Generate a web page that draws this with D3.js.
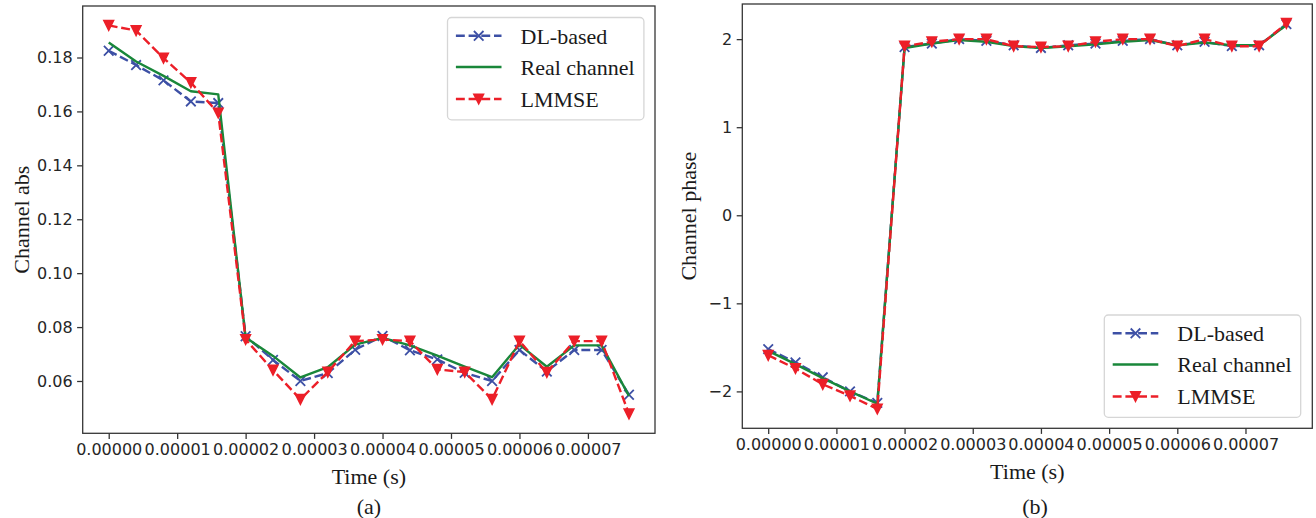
<!DOCTYPE html>
<html>
<head>
<meta charset="utf-8">
<script src="https://cdn.jsdelivr.net/npm/d3@7"></script>
<style>
  html, body { margin: 0; padding: 0; background: #fff; }
  svg { display: block; }
</style>
</head>
<body>
<svg id="chart" width="1316" height="518"></svg>
<script>
// ---- data ----
const time = [0, 0.000004, 0.000008, 0.000012, 0.000016, 0.00002, 0.000024, 0.000028, 0.000032, 0.000036,
              0.00004, 0.000044, 0.000048, 0.000052, 0.000056, 0.00006, 0.000064, 0.000068, 0.000072, 0.000076];

const dlAbs    = [0.1825, 0.1772, 0.1715, 0.1637, 0.1631, 0.0766, 0.0678, 0.0600, 0.0629, 0.0716,
                  0.0767, 0.0714, 0.0680, 0.0630, 0.0600, 0.0715, 0.0635, 0.0715, 0.0715, 0.0549];
const realAbs  = [0.1856, 0.1785, 0.1732, 0.1675, 0.1663, 0.0761, 0.0693, 0.0613, 0.0651, 0.0735,
                  0.0760, 0.0732, 0.0694, 0.0653, 0.0614, 0.0735, 0.0653, 0.0732, 0.0732, 0.0545];
const lmmseAbs = [0.1919, 0.1900, 0.1798, 0.1707, 0.1594, 0.0754, 0.0640, 0.0532, 0.0633, 0.0748,
                  0.0754, 0.0748, 0.0643, 0.0633, 0.0532, 0.0748, 0.0632, 0.0748, 0.0748, 0.0478];

const dlPhase    = [-1.52, -1.67, -1.84, -2.00, -2.13, 1.91, 1.95, 2.00, 1.98, 1.93,
                    1.90, 1.93, 1.95, 1.98, 2.00, 1.93, 1.97, 1.92, 1.93, 2.17];
const realPhase  = [-1.54, -1.69, -1.85, -2.00, -2.14, 1.90, 1.95, 1.99, 1.97, 1.92,
                    1.90, 1.92, 1.94, 1.97, 1.99, 1.93, 1.96, 1.93, 1.93, 2.16];
const lmmsePhase = [-1.59, -1.74, -1.92, -2.05, -2.20, 1.92, 1.97, 2.00, 2.00, 1.92,
                    1.91, 1.92, 1.97, 2.00, 2.00, 1.92, 2.00, 1.92, 1.92, 2.18];

const xTicks     = [0, 0.00001, 0.00002, 0.00003, 0.00004, 0.00005, 0.00006, 0.00007];
const absTicks   = [0.06, 0.08, 0.10, 0.12, 0.14, 0.16, 0.18];
const phaseTicks = [-2, -1, 0, 1, 2];

const seriesNames = ["DL-based", "Real channel", "LMMSE"];

// ---- styles ----
const BLUE = "#3d50a5", GREEN = "#19873a", RED = "#ec1f28";
const TICK_FONT = "'DejaVu Sans', sans-serif";
const SERIF = "'Liberation Serif', 'Times New Roman', serif";
const DASH = "8.9,3.8";

const svg = d3.select("#chart");

function padded(vals) {
  const [a, b] = d3.extent(vals);
  const m = (b - a) * 0.05;
  return [a - m, b + m];
}

function drawMarkerX(g, x, y, color) {
  const r = 4.8;
  g.append("path")
    .attr("d", `M${x - r},${y - r}L${x + r},${y + r}M${x - r},${y + r}L${x + r},${y - r}`)
    .attr("stroke", color).attr("stroke-width", 1.8).attr("fill", "none");
}
function drawMarkerV(g, x, y, color) {
  const r = 4.8;
  g.append("path")
    .attr("d", `M${x - r},${y - r}L${x + r},${y - r}L${x},${y + r}Z`)
    .attr("fill", color).attr("stroke", color).attr("stroke-width", 1.6).attr("stroke-linejoin", "miter");
}

function panel(cfg) {
  const { x0, x1, y0, y1, series, yTicks, yFmt, ylabel, ylabelX, xlabelY, caption, captionX, legend } = cfg;
  const allY = series.flatMap(s => s.values);
  const x = d3.scaleLinear().domain(padded(time)).range([x0, x1]);
  const y = d3.scaleLinear().domain(padded(allY)).range([y1, y0]);

  const g = svg.append("g");

  // axes
  const xAxis = d3.axisBottom(x).tickValues(xTicks).tickFormat(d3.format(".5f")).tickSize(5.6).tickPadding(4.5);
  const yAxis = d3.axisLeft(y).tickValues(yTicks).tickFormat(yFmt).tickSize(5.6).tickPadding(4.5);

  const gx = g.append("g").attr("transform", `translate(0,${y1})`).call(xAxis);
  const gy = g.append("g").attr("transform", `translate(${x0},0)`).call(yAxis);
  [gx, gy].forEach(a => {
    a.select(".domain").remove();
    a.selectAll(".tick line").attr("stroke", "#333").attr("stroke-width", 1.28);
    a.selectAll(".tick text").attr("fill", "#262626").style("font-family", TICK_FONT).style("font-size", "16px");
  });

  // clip
  const clipId = "clip" + Math.round(x0);
  g.append("clipPath").attr("id", clipId).append("rect")
    .attr("x", x0).attr("y", y0).attr("width", x1 - x0).attr("height", y1 - y0);

  const plot = g.append("g").attr("clip-path", `url(#${clipId})`);
  const line = d3.line().x((d, i) => x(time[i])).y(d => y(d));

  series.forEach(s => {
    plot.append("path").datum(s.values)
      .attr("d", line)
      .attr("fill", "none")
      .attr("stroke", s.color)
      .attr("stroke-width", 2.4)
      .attr("stroke-dasharray", s.dash ? DASH : null)
      .attr("stroke-linejoin", "round");
    if (s.marker) {
      s.values.forEach((v, i) => {
        if (s.marker === "x") drawMarkerX(plot, x(time[i]), y(v), s.color);
        else drawMarkerV(plot, x(time[i]), y(v), s.color);
      });
    }
  });

  // frame
  g.append("rect").attr("x", x0).attr("y", y0).attr("width", x1 - x0).attr("height", y1 - y0)
    .attr("fill", "none").attr("stroke", "#333").attr("stroke-width", 1.28);

  // labels
  g.append("text")
    .attr("transform", `translate(${ylabelX},${(y0 + y1) / 2}) rotate(-90)`)
    .attr("text-anchor", "middle")
    .style("font-family", SERIF).style("font-size", "22px").attr("fill", "#1a1a1a")
    .text(ylabel);
  g.append("text")
    .attr("x", (x0 + x1) / 2).attr("y", xlabelY)
    .attr("text-anchor", "middle")
    .style("font-family", SERIF).style("font-size", "22px").attr("fill", "#1a1a1a")
    .text("Time (s)");
  g.append("text")
    .attr("x", captionX).attr("y", 514)
    .attr("text-anchor", "middle")
    .style("font-family", SERIF).style("font-size", "22px").attr("fill", "#1a1a1a")
    .text(caption);

  // legend
  const lg = g.append("g").attr("transform", `translate(${legend.x},${legend.y})`);
  lg.append("rect").attr("width", 196.4).attr("height", 102.3).attr("rx", 4).attr("ry", 4)
    .attr("fill", "#fff").attr("fill-opacity", 0.8).attr("stroke", "#d6d6d6").attr("stroke-width", 1.3);
  const rows = [18.3, 49.5, 81.5];
  series.forEach((s, i) => {
    const ry = rows[i];
    lg.append("line").attr("x1", 8.4).attr("x2", 54).attr("y1", ry).attr("y2", ry)
      .attr("stroke", s.color).attr("stroke-width", 2.4).attr("stroke-dasharray", s.dash ? DASH : null);
    if (s.marker === "x") drawMarkerX(lg, 31.2, ry, s.color);
    else if (s.marker === "v") drawMarkerV(lg, 31.2, ry, s.color);
    lg.append("text").attr("x", 73).attr("y", ry).attr("dy", "0.35em")
      .style("font-family", SERIF).style("font-size", "22px").attr("fill", "#1a1a1a")
      .text(seriesNames[i]);
  });
}

panel({
  x0: 82.7, x1: 655, y0: 6, y1: 433.3,
  series: [
    { values: dlAbs, color: BLUE, dash: true, marker: "x" },
    { values: realAbs, color: GREEN, dash: false, marker: null },
    { values: lmmseAbs, color: RED, dash: true, marker: "v" }
  ],
  yTicks: absTicks, yFmt: d3.format(".2f"),
  ylabel: "Channel abs", ylabelX: 29, xlabelY: 484,
  caption: "(a)", captionX: 369,
  legend: { x: 447.5, y: 17.5 }
});

panel({
  x0: 742.3, x1: 1312.3, y0: 4, y1: 428.3,
  series: [
    { values: dlPhase, color: BLUE, dash: true, marker: "x" },
    { values: realPhase, color: GREEN, dash: false, marker: null },
    { values: lmmsePhase, color: RED, dash: true, marker: "v" }
  ],
  yTicks: phaseTicks, yFmt: d3.format("d"),
  ylabel: "Channel phase", ylabelX: 696, xlabelY: 479,
  caption: "(b)", captionX: 1035,
  legend: { x: 1104.3, y: 315 }
});
</script>
</body>
</html>
